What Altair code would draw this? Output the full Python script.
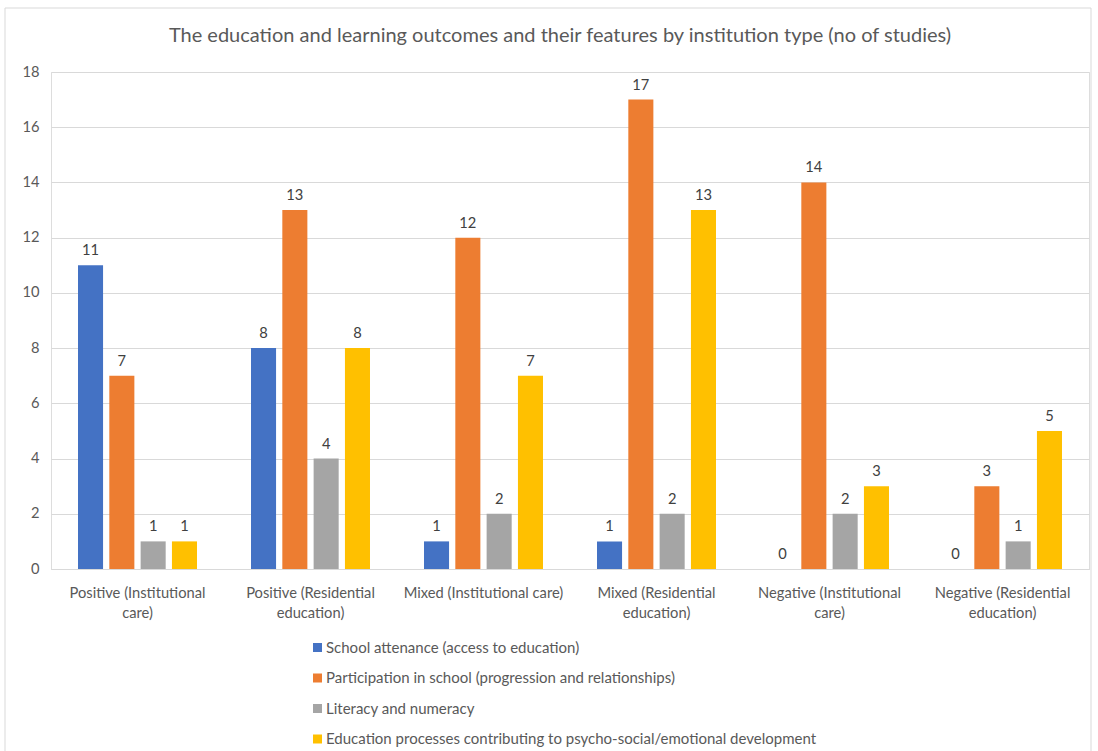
import json
import altair as alt
import pandas as pd

categories = [
    "Positive (Institutional care)",
    "Positive  (Residential education)",
    "Mixed (Institutional care)",
    "Mixed (Residential education)",
    "Negative (Institutional care)",
    "Negative (Residential education)",
]
tick_label_lines = [
    ["Positive (Institutional", "care)"],
    ["Positive  (Residential", "education)"],
    ["Mixed (Institutional care)"],
    ["Mixed (Residential", "education)"],
    ["Negative (Institutional", "care)"],
    ["Negative (Residential", "education)"],
]
series = [
    "School attenance (access to education)",
    "Participation in school (progression and relationships)",
    "Literacy and numeracy",
    "Education processes contributing to psycho-social/emotional development",
]
school_attendance = [11, 8, 1, 1, 0, 0]
participation = [7, 13, 12, 17, 14, 3]
literacy = [1, 4, 2, 2, 2, 1]
psychosocial = [1, 8, 7, 13, 3, 5]
colors = ["#4472C4", "#ED7D31", "#A5A5A5", "#FFC000"]

title_text = "The education and learning outcomes and their features by institution type (no of studies)"

rows = []
for s, vals in zip(series, [school_attendance, participation, literacy, psychosocial]):
    for c, v in zip(categories, vals):
        rows.append({"category": c, "series": s, "value": v})
df = pd.DataFrame(rows)

FONT = "Lato"
TXT = "#595959"
FS = 14.7

label_expr = "{}[indexof({}, datum.label)]".format(
    json.dumps(tick_label_lines), json.dumps(categories)
)

x_enc = alt.X(
    "category:N",
    sort=categories,
    scale=alt.Scale(paddingInner=0.2, paddingOuter=0.1),
    axis=alt.Axis(
        title=None,
        labelAngle=0,
        labelExpr=label_expr,
        labelColor=TXT,
        labelFont=FONT,
        labelFontSize=FS,
        labelPadding=16,
        labelLineHeight=20,
        ticks=False,
        domainColor="#D9D9D9",
        domainWidth=1,
        grid=False,
        labelLimit=300,
    ),
)
xoff_enc = alt.XOffset(
    "series:N", sort=series, scale=alt.Scale(paddingInner=0.2, paddingOuter=0.31)
)
y_enc = alt.Y(
    "value:Q",
    scale=alt.Scale(domain=[0, 18]),
    axis=alt.Axis(
        title=None,
        values=list(range(0, 19, 2)),
        labelColor=TXT,
        labelFont=FONT,
        labelFontSize=FS,
        labelPadding=12,
        ticks=False,
        domain=False,
        gridColor="#D9D9D9",
        gridWidth=1,
    ),
)

base = alt.Chart(df)

bars = base.mark_bar().encode(
    x=x_enc,
    xOffset=xoff_enc,
    y=y_enc,
    color=alt.Color(
        "series:N",
        sort=series,
        scale=alt.Scale(domain=series, range=colors),
        legend=alt.Legend(
            title=None,
            orient="none",
            legendX=259,
            legendY=568,
            direction="vertical",
            symbolType="square",
            symbolSize=81,
            symbolStrokeWidth=0,
            labelColor=TXT,
            labelFont=FONT,
            labelFontSize=15,
            labelLimit=700,
            labelOffset=1,
            rowPadding=14.5,
            padding=0,
        ),
    ),
)

labels = base.mark_text(
    baseline="bottom", dy=-7, color="#404040", font=FONT, fontSize=FS
).encode(
    x=alt.X("category:N", sort=categories),
    xOffset=alt.XOffset("series:N", sort=series),
    y=alt.Y("value:Q"),
    text=alt.Text("value:Q"),
)

frame = alt.Chart(pd.DataFrame({"k": [0]})).mark_rect(
    fill=None, stroke="#D9D9D9", strokeWidth=1
).encode(
    x=alt.value(-46), x2=alt.value(1040), y=alt.value(-64), y2=alt.value(700)
)

chart = (
    alt.layer(frame, bars, labels)
    .properties(
        width=1038,
        height=497,
        autosize=alt.AutoSizeParams(type="none"),
        padding={"left": 51, "top": 72, "right": 9, "bottom": 182},
        title=alt.TitleParams(
            text=title_text,
            font=FONT,
            fontSize=20,
            fontWeight="normal",
            color=TXT,
            anchor="middle",
            frame="group",
            offset=-38,
            dx=-10,
        ),
    )
    .configure_view(stroke=None)
    .configure(background="white")
)

chart.save("out.html", embed_options={"renderer": "svg", "actions": False})
